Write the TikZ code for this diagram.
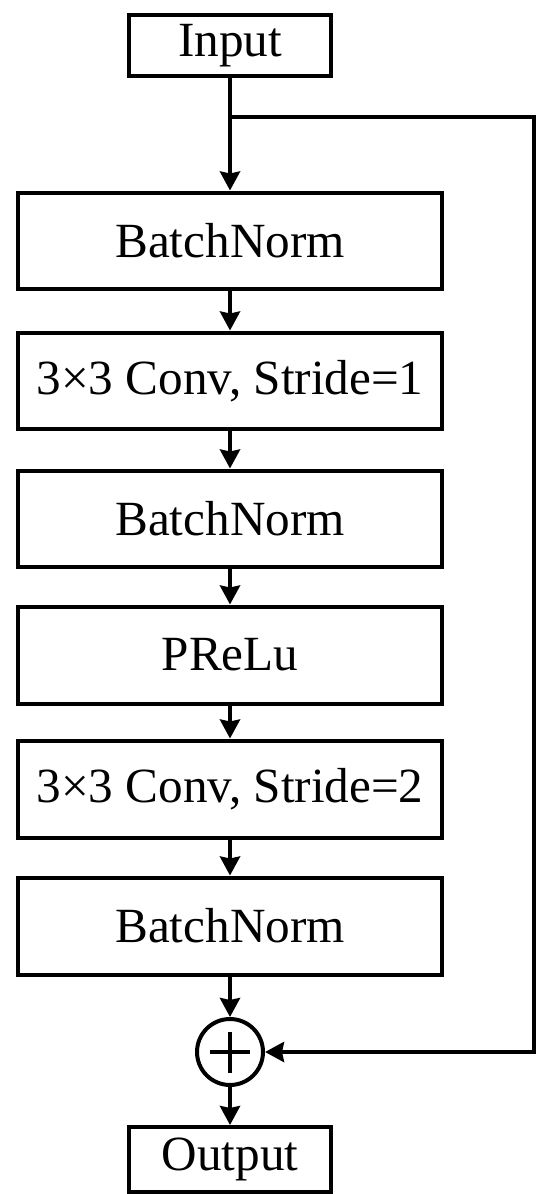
\documentclass[tikz,border=0pt]{standalone}
\usepackage{fontspec}
\setmainfont{Liberation Serif}
\usetikzlibrary{arrows.meta}

\begin{document}
\begin{tikzpicture}[x=0.02cm, y=-0.02cm, line width=0.08cm, >={Stealth[length=0.38cm,width=0.4cm,inset=0.04cm]}]
% Stili dei blocchi
\tikzset{layer/.style={draw, minimum width=8.5cm, minimum height=1.94cm, inner sep=0pt, font=\fontsize{28}{33}\selectfont},
         io/.style={draw, minimum width=4.04cm, minimum height=1.24cm, inner sep=0pt, font=\fontsize{28}{33}\selectfont},
         sum/.style={draw, circle, minimum size=1.32cm, inner sep=0pt}}

\useasboundingbox (0,0) rectangle (550,1194);

% Ingresso e uscita
\node[io] (in) at (230,45.5) {Input};
\node[io, minimum height=1.3cm] (out) at (230,1159.5) {Output};

% Blocchi del ramo principale
\node[layer] (bn1) at (230,241) {BatchNorm};
\node[layer] (conv1) at (230,381) {3×3 Conv, Stride=1};
\node[layer] (bn2) at (230,519) {BatchNorm};
\node[layer] (act) at (230,655) {PReLu};
\node[layer] (conv2) at (230,789) {3×3 Conv, Stride=2};
\node[layer] (bn3) at (230,926) {BatchNorm};

% Nodo somma
\node[sum] (add) at (230,1052) {};
\draw ([xshift=-0.41cm]add.center) -- ([xshift=0.41cm]add.center);
\draw ([yshift=-0.41cm]add.center) -- ([yshift=0.41cm]add.center);

% Collegamenti
\coordinate (split) at (230,117);
\coordinate (skip1) at (534,117);
\coordinate (skip2) at (534,1052);
\draw[->] (in) -- (bn1);
\draw[->] (bn1) -- (conv1);
\draw[->] (conv1) -- (bn2);
\draw[->] (bn2) -- (act);
\draw[->] (act) -- (conv2);
\draw[->] (conv2) -- (bn3);
\draw[->] (bn3) -- (add);
\draw[->] (add) -- (out);

% Connessione residua
\draw[->, line join=miter] (split) -- (skip1) -- (skip2) -- (add);

\end{tikzpicture}
\end{document}
